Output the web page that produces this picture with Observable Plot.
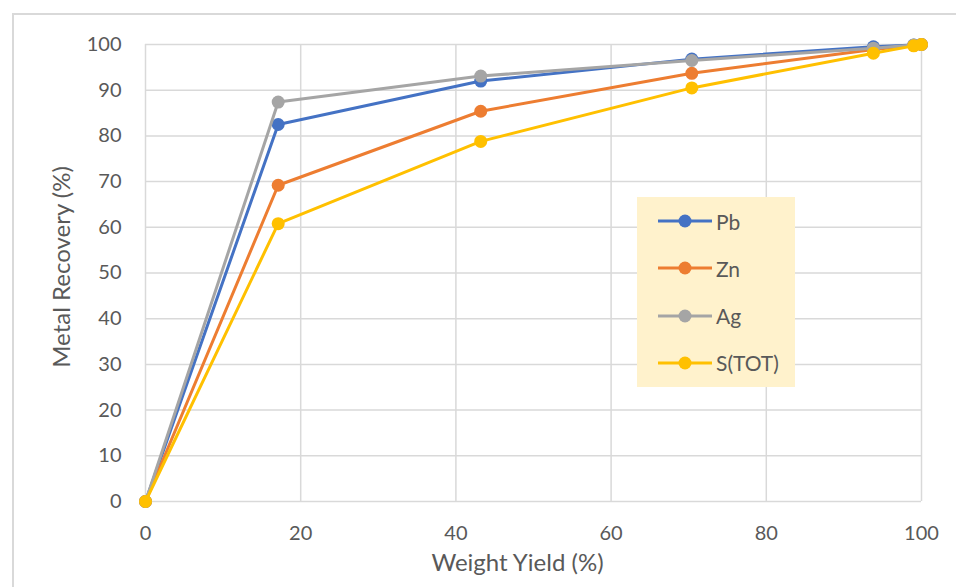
<!DOCTYPE html>
<html>
<head>
<meta charset="utf-8">
<script src="https://cdn.jsdelivr.net/npm/d3@7"></script>
<script src="https://cdn.jsdelivr.net/npm/@observablehq/plot@0.6"></script>
<style>
  html, body { margin: 0; padding: 0; background: #fff; }
  #wrap { position: relative; width: 956px; height: 587px; overflow: hidden; font-family: Lato, "Open Sans", sans-serif; }
  #frame { position: absolute; left: 12px; top: 13px; width: 1000px; height: 700px; border: 2px solid #d9d9d9; box-sizing: border-box; }
  #chart { position: absolute; left: 0; top: 0; }
  #legend { position: absolute; left: 637px; top: 197px; width: 158px; height: 190px; background: #FFF2CC; }
  .item { position: absolute; left: 20px; height: 24px; display: flex; align-items: center; font-size: 21px; color: #595959; }
  .item svg { margin-right: 3px; }
</style>
</head>
<body>
<div id="wrap">
  <div id="frame"></div>
  <div id="chart"></div>
  <div id="legend"></div>
</div>
<script>
const weightYield = [0, 17.1, 43.2, 70.4, 93.8, 99.0, 100];
const seriesNames = ["Pb", "Zn", "Ag", "S(TOT)"];
const seriesColors = ["#4472C4", "#ED7D31", "#A5A5A5", "#FFC000"];
const pb = [0, 82.5, 92.0, 96.8, 99.5, 99.9, 100];
const zn = [0, 69.2, 85.4, 93.7, 98.9, 99.8, 100];
const ag = [0, 87.4, 93.1, 96.5, 99.2, 99.9, 100];
const sTot = [0, 60.8, 78.8, 90.5, 98.1, 99.7, 100];
const xTicks = [0, 20, 40, 60, 80, 100];
const yTicks = [0, 10, 20, 30, 40, 50, 60, 70, 80, 90, 100];

const seriesValues = [pb, zn, ag, sTot];
const data = seriesNames.flatMap((name, i) =>
  weightYield.map((x, j) => ({series: name, x, y: seriesValues[i][j]})));

const gridStyle = {stroke: "#d9d9d9", strokeOpacity: 1, strokeWidth: 1.5};
const marks = [
  Plot.gridX(xTicks, gridStyle),
  Plot.gridY(yTicks, gridStyle),
  Plot.axisX(xTicks, {tickSize: 0, tickPadding: 24, fontSize: 20, fill: "#595959", label: null}),
  Plot.axisY(yTicks, {tickSize: 0, tickPadding: 24, fontSize: 20, fill: "#595959", label: null}),
  Plot.text(["Weight Yield (%)"], {text: d => d, frameAnchor: "bottom", textAnchor: "middle", dy: 69, dx: -16, fontSize: 24, fill: "#595959"}),
  Plot.text(["Metal Recovery (%)"], {text: d => d, frameAnchor: "left", textAnchor: "middle", rotate: -90, dx: -83, dy: -6, fontSize: 24, fill: "#595959"})
];
for (const name of seriesNames) {
  const d = data.filter(r => r.series === name);
  marks.push(Plot.line(d, {x: "x", y: "y", stroke: "series", strokeWidth: 3}));
  marks.push(Plot.dot(d, {x: "x", y: "y", fill: "series", r: 6.5}));
}

const chart = Plot.plot({
  width: 956,
  height: 587,
  marginLeft: 145,
  marginRight: 35,
  marginTop: 44,
  marginBottom: 86,
  style: {fontFamily: "Lato, 'Open Sans', sans-serif", background: "transparent"},
  x: {domain: [0, 100]},
  y: {domain: [0, 100]},
  color: {domain: seriesNames, range: seriesColors},
  marks
});
document.getElementById("chart").appendChild(chart);

const legend = document.getElementById("legend");
seriesNames.forEach((name, i) => {
  const item = document.createElement("div");
  item.className = "item";
  item.style.top = (12 + i * 47.3) + "px";
  item.innerHTML = `<svg width="56" height="16"><line x1="1" y1="8" x2="55" y2="8" stroke="${seriesColors[i]}" stroke-width="3"/><circle cx="28" cy="8" r="6.5" fill="${seriesColors[i]}"/></svg><span>${name}</span>`;
  legend.appendChild(item);
});
</script>
</body>
</html>
